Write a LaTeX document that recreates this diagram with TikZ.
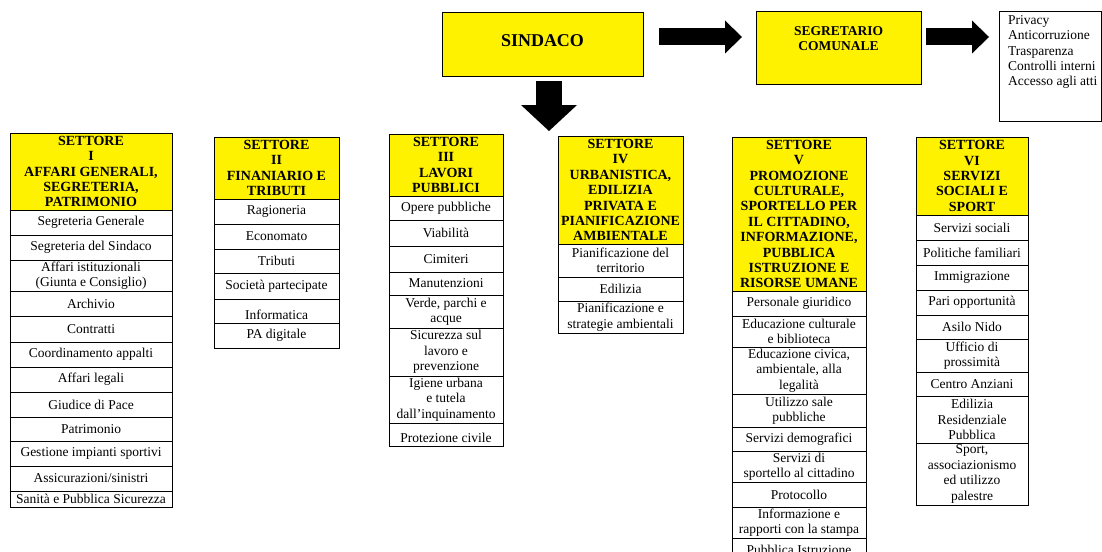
\documentclass[tikz,border=0pt]{standalone}
\usepackage{fontspec}
\setmainfont{Liberation Serif}
\usetikzlibrary{arrows.meta}
\newcommand\mkcell[7]{\node[#2, minimum width={(#4-#3)*1pt}, minimum height={(#6-#5)*1pt}] (#1) at ({(#3+#4)/2},{(#5+#6)/2}) {#7};}
\begin{document}
\begin{tikzpicture}[x=1pt,y=-1pt,
  box/.style={draw=black, line width=1pt, inner sep=0pt, align=center, text=black},
  top/.style={box, fill=yellow},
  hdr/.style={box, fill=yellow, font=\fontsize{14}{15.4}\selectfont\bfseries},
  itm/.style={box, fill=white, font=\fontsize{13.5}{15.4}\selectfont},
  blk/.style={line width=17pt, -{Triangle[length=17pt, width=33pt, line width=0pt]}},
  blkdown/.style={line width=26pt, -{Triangle[length=26pt, width=56pt, line width=0pt]}}]
\clip (0,0) rectangle (1102,551);
\fill[white] (0,0) rectangle (1102,551);
% top row
\mkcell{sindaco}{top, font=\fontsize{18}{20}\selectfont\bfseries}{442}{643}{13}{76}{\raisebox{-2pt}[0pt][0pt]{SINDACO}}
\mkcell{segretario}{top, font=\fontsize{13.5}{16}\selectfont\bfseries}{756}{921}{12}{84}{\raisebox{5pt}[0pt][0pt]{\begin{tabular}{@{}c@{}}SEGRETARIO\\[-1pt]COMUNALE\end{tabular}}}
\mkcell{privacy}{box, fill=white}{999}{1101}{12}{121}{}
\node[anchor=north west, align=left, inner sep=0pt, font=\fontsize{13.5}{15.2}\selectfont] (privtxt) at (1008,15.5)
  {Privacy\\Anticorruzione\\Trasparenza\\Controlli interni\\Accesso agli atti};
\coordinate (a1s) at (659,37); \coordinate (a1e) at (742,37);
\coordinate (a2s) at (926,37); \coordinate (a2e) at (989,37);
\coordinate (a3s) at (549,81); \coordinate (a3e) at (549,131);
\draw[blk] (a1s) -- (a1e);
\draw[blk] (a2s) -- (a2e);
\draw[blkdown] (a3s) -- (a3e);
% Settore I
\mkcell{s1}{hdr}{10}{172}{133}{210}{SETTORE\\I\\AFFARI GENERALI,\\SEGRETERIA,\\PATRIMONIO}
\mkcell{s1a}{itm}{10}{172}{210}{235}{Segreteria Generale}
\mkcell{s1b}{itm}{10}{172}{235}{260}{Segreteria del Sindaco}
\mkcell{s1c}{itm}{10}{172}{260}{291}{Affari istituzionali\\(Giunta e Consiglio)}
\mkcell{s1d}{itm}{10}{172}{291}{316}{Archivio}
\mkcell{s1e}{itm}{10}{172}{316}{342}{Contratti}
\mkcell{s1f}{itm}{10}{172}{342}{367}{Coordinamento appalti}
\mkcell{s1g}{itm}{10}{172}{367}{392}{Affari legali}
\mkcell{s1h}{itm}{10}{172}{392}{417}{Giudice di Pace}
\mkcell{s1i}{itm}{10}{172}{417}{441}{Patrimonio}
\mkcell{s1j}{itm}{10}{172}{441}{466}{Gestione impianti sportivi}
\mkcell{s1k}{itm}{10}{172}{466}{491}{Assicurazioni/sinistri}
\mkcell{s1l}{itm}{10}{172}{491}{507}{Sanità e Pubblica Sicurezza}
% Settore II
\mkcell{s2}{hdr}{214}{339}{137}{199}{SETTORE\\II\\FINANIARIO E\\TRIBUTI}
\mkcell{s2a}{itm}{214}{339}{199}{224}{Ragioneria}
\mkcell{s2b}{itm}{214}{339}{224}{249}{Economato}
\mkcell{s2c}{itm}{214}{339}{249}{273}{Tributi}
\mkcell{s2d}{itm}{214}{339}{273}{299}{Società partecipate}
\mkcell{s2e}{itm}{214}{339}{299}{323}{\raisebox{-8pt}[0pt][0pt]{Informatica}}
\mkcell{s2f}{itm}{214}{339}{323}{348}{PA digitale}
% Settore III
\mkcell{s3}{hdr}{389}{503}{134}{196}{SETTORE\\III\\LAVORI\\PUBBLICI}
\mkcell{s3a}{itm}{389}{503}{196}{220}{Opere pubbliche}
\mkcell{s3b}{itm}{389}{503}{220}{246}{Viabilità}
\mkcell{s3c}{itm}{389}{503}{246}{272}{Cimiteri}
\mkcell{s3d}{itm}{389}{503}{272}{295}{Manutenzioni}
\mkcell{s3e}{itm}{389}{503}{295}{328}{Verde, parchi e\\acque}
\mkcell{s3f}{itm}{389}{503}{328}{376}{Sicurezza sul\\lavoro e\\prevenzione}
\mkcell{s3g}{itm}{389}{503}{376}{423}{Igiene urbana\\e tutela\\dall’inquinamento}
\mkcell{s3h}{itm}{389}{503}{423}{446}{\raisebox{-8pt}[0pt][0pt]{Protezione civile}}
% Settore IV
\mkcell{s4}{hdr}{558}{683}{136}{244}{SETTORE\\IV\\URBANISTICA,\\EDILIZIA\\PRIVATA E\\PIANIFICAZIONE\\AMBIENTALE}
\mkcell{s4a}{itm}{558}{683}{244}{277}{Pianificazione del\\territorio}
\mkcell{s4b}{itm}{558}{683}{277}{301}{Edilizia}
\mkcell{s4c}{itm}{558}{683}{301}{333}{Pianificazione e\\strategie ambientali}
% Settore V
\mkcell{s5}{hdr}{732}{866}{137}{291}{SETTORE\\V\\PROMOZIONE\\CULTURALE,\\SPORTELLO PER\\IL CITTADINO,\\INFORMAZIONE,\\PUBBLICA\\ISTRUZIONE E\\RISORSE UMANE}
\mkcell{s5a}{itm}{732}{866}{291}{316}{Personale giuridico}
\mkcell{s5b}{itm}{732}{866}{316}{347}{Educazione culturale\\e biblioteca}
\mkcell{s5c}{itm}{732}{866}{347}{394}{Educazione civica,\\ambientale, alla\\legalità}
\mkcell{s5d}{itm}{732}{866}{394}{427}{Utilizzo sale\\pubbliche}
\mkcell{s5e}{itm}{732}{866}{427}{451}{Servizi demografici}
\mkcell{s5f}{itm}{732}{866}{451}{482}{Servizi di\\sportello al cittadino}
\mkcell{s5g}{itm}{732}{866}{482}{507}{Protocollo}
\mkcell{s5h}{itm}{732}{866}{507}{538}{Informazione e\\rapporti con la stampa}
\mkcell{s5i}{itm}{732}{866}{538}{562}{Pubblica Istruzione}
% Settore VI
\mkcell{s6}{hdr}{916}{1028}{137}{215}{SETTORE\\VI\\SERVIZI\\SOCIALI E\\SPORT}
\mkcell{s6a}{itm}{916}{1028}{215}{240}{Servizi sociali}
\mkcell{s6b}{itm}{916}{1028}{240}{265}{Politiche familiari}
\mkcell{s6c}{itm}{916}{1028}{265}{290}{Immigrazione}
\mkcell{s6d}{itm}{916}{1028}{290}{315}{Pari opportunità}
\mkcell{s6e}{itm}{916}{1028}{315}{339}{Asilo Nido}
\mkcell{s6f}{itm}{916}{1028}{339}{372}{Ufficio di\\prossimità}
\mkcell{s6g}{itm}{916}{1028}{372}{396}{Centro Anziani}
\mkcell{s6h}{itm}{916}{1028}{396}{443}{Edilizia\\Residenziale\\Pubblica}
\mkcell{s6i}{itm}{916}{1028}{443}{505}{Sport,\\associazionismo\\ed utilizzo\\palestre}
\end{tikzpicture}
\end{document}
